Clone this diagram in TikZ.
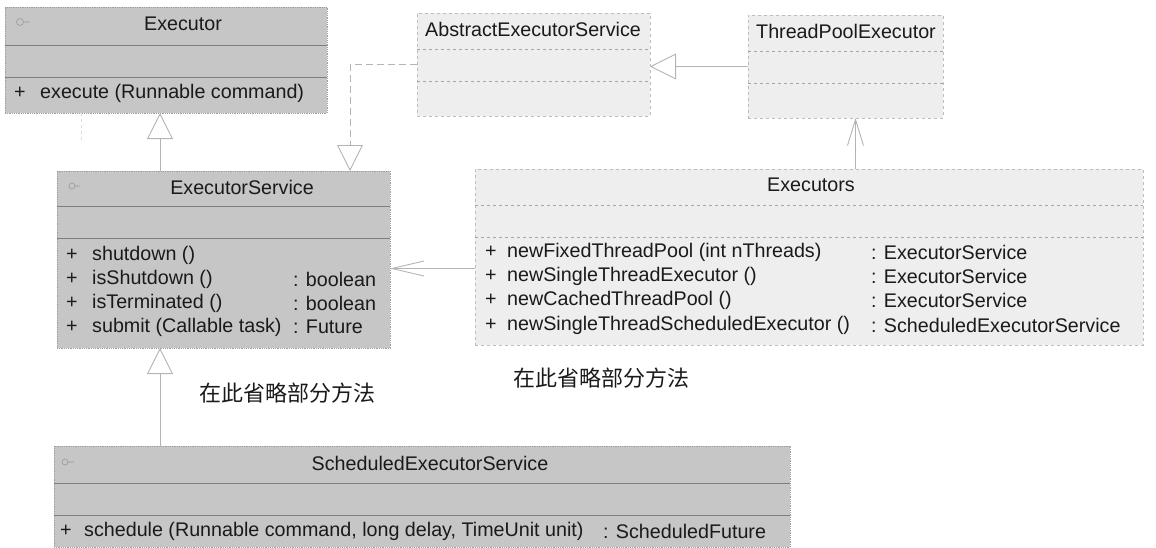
\documentclass[tikz,border=0pt]{standalone}
\usepackage{fontspec}
\setmainfont{Liberation Sans}
\newfontfamily\cjkfont{Noto Sans CJK SC}
\usetikzlibrary{arrows.meta,calc}
\definecolor{ifacefill}{HTML}{C6C6C6}
\definecolor{ifaceedge}{HTML}{9E9E9E}
\definecolor{ifacerule}{HTML}{7E7E7E}
\definecolor{classfill}{HTML}{EEEEEE}
\definecolor{classedge}{HTML}{BDBDBD}
\definecolor{classrule}{HTML}{A6A6A6}
\definecolor{linkgray}{HTML}{B4B4B4}
\definecolor{inkgray}{HTML}{1A1A1A}
\begin{document}
\begin{tikzpicture}[x=1pt,y=-1pt,
  font=\fontsize{19.7}{22}\selectfont, text=inkgray,
  umlbox/.style={rectangle, inner sep=0pt, outer sep=0pt, anchor=north west},
  iface/.style={umlbox, fill=ifacefill, draw=ifaceedge, densely dotted, line width=0.8pt},
  klass/.style={umlbox, fill=classfill, draw=classedge, dashed, line width=0.8pt},
  irule/.style={draw=ifacerule, line width=0.7pt},
  crule/.style={draw=classrule, dashed, line width=0.7pt},
  title/.style={inner sep=0pt, anchor=center},
  member/.style={inner sep=0pt, anchor=west},
  icon/.style={draw=ifacerule!80, line width=0.6pt},
  link/.style={draw=linkgray, line width=0.9pt},
  inherit/.style={link, -{Triangle[length=26pt,width=26pt,fill=white]}},
  realize/.style={inherit, dash pattern=on 7pt off 4pt},
  depend/.style={link, -{Straight Barb[length=26pt,width=16pt]}},
  note/.style={inner sep=0pt, anchor=west, font=\cjkfont\fontsize{22}{22}\selectfont},
]
\useasboundingbox (0,0) rectangle (1156,547);

% ---------- Executor ----------
\node[iface, minimum width=322pt, minimum height=106pt] (executor) at (5,7) {};
\draw[icon] (20,22) circle (3.5pt) (23.5,22) -- (30,22);
\node[title] (executorT) at (183,24) {Executor};
\draw[irule] (5,45) -- (327,45);
\draw[irule] (5,77) -- (327,77);
\node[member] (executorP1) at (14,93) {+};
\node[member] (executorM1) at (40,93) {execute (Runnable command)};

% ---------- AbstractExecutorService ----------
\node[klass, minimum width=233pt, minimum height=103pt] (aes) at (417,13) {};
\node[title] (aesT) at (533,29) {AbstractExecutorService};
\draw[crule] (417,49) -- (650,49);
\draw[crule] (417,81) -- (650,81);

% ---------- ThreadPoolExecutor ----------
\node[klass, minimum width=195pt, minimum height=103pt] (tpe) at (748,15) {};
\node[title] (tpeT) at (846,31) {ThreadPoolExecutor};
\draw[crule] (748,51) -- (943,51);
\draw[crule] (748,83) -- (943,83);

% ---------- ExecutorService ----------
\node[iface, minimum width=333pt, minimum height=177pt] (es) at (57,171) {};
\draw[icon] (72,186) circle (3pt) (75,186) -- (80,186);
\node[title] (esT) at (242,187) {ExecutorService};
\draw[irule] (57,206) -- (390,206);
\draw[irule] (57,238) -- (390,238);
\node[member] (esP1) at (66,255) {+};
\node[member] (esP2) at (66,279) {+};
\node[member] (esP3) at (66,303) {+};
\node[member] (esP4) at (66,327) {+};
\node[member] (esM1) at (92,255) {shutdown ()};
\node[member] (esM2) at (92,279) {isShutdown ()};
\node[member] (esM3) at (92,303) {isTerminated ()};
\node[member] (esM4) at (92,327) {submit (Callable task)};
\node[member] (esR2) at (293,279) {: boolean};
\node[member] (esR3) at (293,303) {: boolean};
\node[member] (esR4) at (293,327) {: Future};

% ---------- Executors ----------
\node[klass, minimum width=668pt, minimum height=176pt] (executors) at (475,169) {};
\node[title] (executorsT) at (811,185) {Executors};
\draw[crule] (475,205) -- (1143,205);
\draw[crule] (475,237) -- (1143,237);
\node[member] (exP1) at (485,252) {+};
\node[member] (exP2) at (485,276) {+};
\node[member] (exP3) at (485,300) {+};
\node[member] (exP4) at (485,325) {+};
\node[member] (exM1) at (507,252) {newFixedThreadPool (int nThreads)};
\node[member] (exM2) at (507,276) {newSingleThreadExecutor ()};
\node[member] (exM3) at (507,300) {newCachedThreadPool ()};
\node[member] (exM4) at (507,325) {newSingleThreadScheduledExecutor ()};
\node[member] (exR1) at (871,252) {: ExecutorService};
\node[member] (exR2) at (871,276) {: ExecutorService};
\node[member] (exR3) at (871,300) {: ExecutorService};
\node[member] (exR4) at (871,325) {: ScheduledExecutorService};

% ---------- ScheduledExecutorService ----------
\node[iface, minimum width=736pt, minimum height=101pt] (ses) at (54,446) {};
\draw[icon] (65,462) circle (3pt) (68,462) -- (74,462);
\node[title] (sesT) at (430,463) {ScheduledExecutorService};
\draw[irule] (54,483) -- (790,483);
\draw[irule] (54,515) -- (790,515);
\node[member] (sesP1) at (60,531) {+};
\node[member] (sesM1) at (84,531) {schedule (Runnable command, long delay, TimeUnit unit)};
\node[member] (sesR1) at (603,531) {: ScheduledFuture};

% ---------- notes ----------
\node[note] (esNote) at (199,393) {在此省略部分方法};
\node[note] (exNote) at (513,378) {在此省略部分方法};

% ---------- relations ----------
\coordinate (esfoot) at ([xshift=103pt]es.south west);
\coordinate (tpefoot) at ([xshift=10pt]tpe.south);
\coordinate (deplink) at ([yshift=-9pt]es.east);
\coordinate (stubEnd) at (81,140);

\draw[inherit] (esfoot |- es.north) -- (esfoot |- executor.south);
\draw[link, draw=linkgray!45, dashed] (stubEnd |- executor.south) -- (stubEnd);
\draw[realize] (aes.west) -| ([xshift=-40pt]es.north east);
\draw[inherit] (tpe.west) -- (aes.east |- tpe.west);
\draw[depend] (tpefoot |- executors.north) -- (tpefoot);
\draw[depend, -{Straight Barb[length=32pt,width=15pt]}] (deplink -| executors.west) -- (deplink);
\draw[inherit] (esfoot |- ses.north) -- (esfoot);
\end{tikzpicture}
\end{document}
